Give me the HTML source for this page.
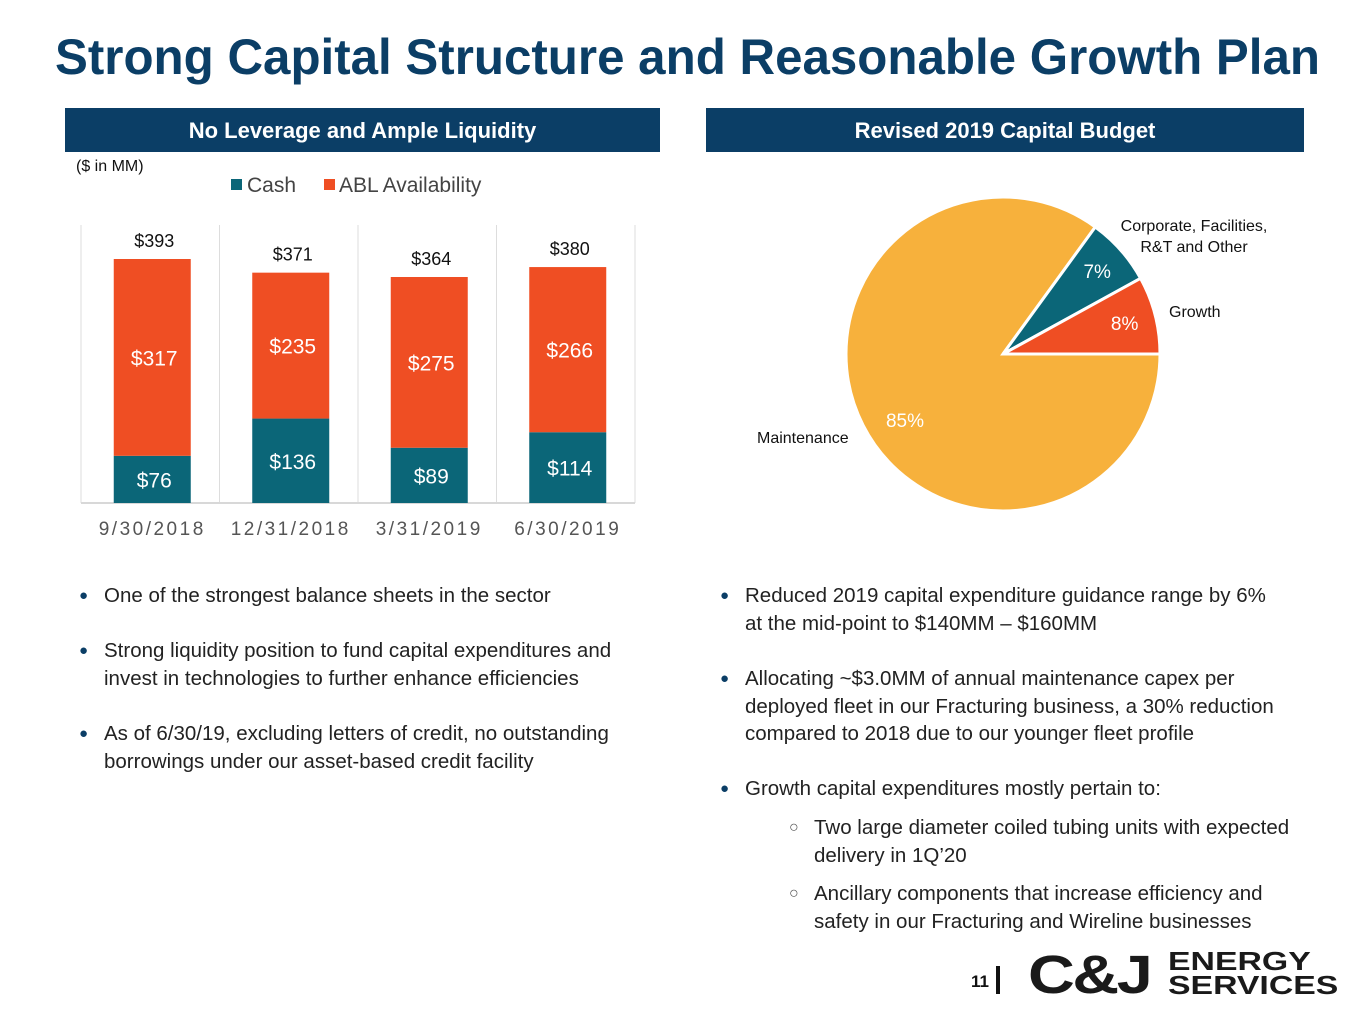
<!DOCTYPE html>
<html><head><meta charset="utf-8"><style>
body{margin:0;width:1365px;height:1024px;background:#fff;position:relative;overflow:hidden;font-family:"Liberation Sans",sans-serif;}
.hdr{position:absolute;top:108px;height:44px;background:#0b3e66;color:#fff;font-weight:bold;font-size:22px;text-align:center;line-height:46px;}
.bul{position:absolute;font-size:20.5px;color:#222;line-height:27.5px;}
.bul .b{position:absolute;left:-25px;color:#0b3e66;font-size:15px;}
.bul .o{position:absolute;left:-25px;color:#555;font-size:16px;}
</style></head><body>
<svg style="position:absolute;left:0;top:0" width="1365" height="100">
<text x="55" y="74" font-family="Liberation Sans, sans-serif" font-weight="bold" font-size="50" fill="#0b3e66" textLength="1265" lengthAdjust="spacingAndGlyphs">Strong Capital Structure and Reasonable Growth Plan</text></svg>
<div class="hdr" style="left:65px;width:595px">No Leverage and Ample Liquidity</div>
<div class="hdr" style="left:706px;width:598px">Revised 2019 Capital Budget</div>
<svg id="bar" style="position:absolute;left:0;top:0" width="700" height="560"></svg>
<svg id="pie" style="position:absolute;left:700px;top:150px" width="665" height="400"></svg>

<div class="bul" style="left:104px;top:582px"><span class="b">●</span>One of the strongest balance sheets in the sector</div>
<div class="bul" style="left:104px;top:637px;width:535px"><span class="b">●</span>Strong liquidity position to fund capital expenditures and invest in technologies to further enhance efficiencies</div>
<div class="bul" style="left:104px;top:720px;width:535px"><span class="b">●</span>As of 6/30/19, excluding letters of credit, no outstanding borrowings under our asset-based credit facility</div>
<div class="bul" style="left:745px;top:582px;width:535px"><span class="b">●</span>Reduced 2019 capital expenditure guidance range by 6% at the mid-point to $140MM – $160MM</div>
<div class="bul" style="left:745px;top:665px;width:535px"><span class="b">●</span>Allocating ~$3.0MM of annual maintenance capex per deployed fleet in our Fracturing business, a 30% reduction compared to 2018 due to our younger fleet profile</div>
<div class="bul" style="left:745px;top:775px;width:535px"><span class="b">●</span>Growth capital expenditures mostly pertain to:</div>
<div class="bul" style="left:814px;top:814px;width:490px"><span class="o">○</span>Two large diameter coiled tubing units with expected delivery in 1Q’20</div>
<div class="bul" style="left:814px;top:880px;width:470px"><span class="o">○</span>Ancillary components that increase efficiency and safety in our Fracturing and Wireline businesses</div>

<div style="position:absolute;left:971px;top:972px;font-size:17px;font-weight:bold;color:#111">11</div>
<div style="position:absolute;left:996px;top:966px;width:4px;height:28px;background:#111"></div>
<div style="position:absolute;left:1028px;top:950px;width:320px;height:50px;">
<span style="position:absolute;left:0;top:-6px;font-size:54px;font-weight:bold;color:#1a1a1a;letter-spacing:-2px;transform:scaleX(1.2);transform-origin:left;display:inline-block">C&amp;J</span>
<span style="position:absolute;left:140px;top:-1px;font-size:26px;font-weight:bold;color:#1a1a1a;line-height:24px;transform:scaleX(1.3);transform-origin:left;display:inline-block">ENERGY<br>SERVICES</span></div>

<script>
const categories=["9/30/2018","12/31/2018","3/31/2019","6/30/2019"];
const cashValues=[76,136,89,114];
const ablValues=[317,235,275,266];
const totalLabels=["$393","$371","$364","$380"];
const pieLabels=["Maintenance","Corporate, Facilities, R&T and Other","Growth"];
const piePercents=[85,7,8];

const NS="http://www.w3.org/2000/svg";
function mk(parent,tag,attrs,text){const e=document.createElementNS(NS,tag);for(const k in attrs)e.setAttribute(k,attrs[k]);if(text!==undefined)e.textContent=text;parent.appendChild(e);return e;}

const bar=document.getElementById('bar');
const x0=81,x1=635,yBase=503,scale=244/393;
const yv=v=>yBase-v*scale;
const slot=(x1-x0)/categories.length;
const xc=i=>x0+slot*(i+0.5)+2;
let t=mk(bar,'text',{x:76,y:171,'font-size':16,fill:'#111'},'($ in MM)');

let r=mk(bar,'rect',{x:231,y:179,width:11,height:11,fill:'#0b6678'});

t=mk(bar,'text',{x:247,y:192,'font-size':21,fill:'#444'},'Cash');

r=mk(bar,'rect',{x:324,y:179,width:11,height:11,fill:'#ef4e23'});

t=mk(bar,'text',{x:339,y:192,'font-size':21,fill:'#444'},'ABL Availability');

for(let i=0;i<=categories.length;i++){
  const l=mk(bar,'line',{x1:x0+slot*i,x2:x0+slot*i,y1:225,y2:yBase,stroke:'#ddd','stroke-width':1});
  
}
const bl=mk(bar,'line',{x1:x0,x2:x1,y1:yBase,y2:yBase,stroke:'#d8d8d8','stroke-width':2});

const bw=77;
categories.forEach((c,i)=>{
  const cx=xc(i),c1=cashValues[i],a=ablValues[i];
  const rc=mk(bar,'rect',{x:cx-bw/2,y:yv(c1),width:bw,height:yBase-yv(c1),fill:'#0b6678'});
  
  const ra=mk(bar,'rect',{x:cx-bw/2,y:yv(c1+a),width:bw,height:yv(c1)-yv(c1+a),fill:'#ef4e23'});
  
  const tc=mk(bar,'text',{x:cx+2,y:(yv(c1)+yBase)/2+8,'text-anchor':'middle','font-size':21,fill:'#fff'},'$'+c1);
  
  const ta=mk(bar,'text',{x:cx+2,y:(yv(c1+a)+yv(c1))/2+8,'text-anchor':'middle','font-size':21,fill:'#fff'},'$'+a);
  
  const tt=mk(bar,'text',{x:cx+2,y:yv(c1+a)-12,'text-anchor':'middle','font-size':18,fill:'#111'},totalLabels[i]);
  
  const tl=mk(bar,'text',{x:cx,y:535,'text-anchor':'middle','font-size':19,fill:'#555','letter-spacing':'2.5'},c);
  
});

const pie=document.getElementById('pie');
const pcx=303,pcy=204,pr=157;
const colors=['#f7b13c','#0b6678','#ef4e23'];
const total=piePercents.reduce((a,b)=>a+b,0);
let ang=0;
piePercents.forEach((p,i)=>{
  const sweep=p/total*2*Math.PI;
  const a0=ang,a1=ang+sweep;
  const xA=pcx+pr*Math.cos(a0),yA=pcy+pr*Math.sin(a0),xB=pcx+pr*Math.cos(a1),yB=pcy+pr*Math.sin(a1);
  const path=mk(pie,'path',{d:`M${pcx},${pcy} L${xA},${yA} A${pr},${pr} 0 ${sweep>Math.PI?1:0} 1 ${xB},${yB} Z`,fill:colors[i],stroke:'#fff','stroke-width':3});
  
  
  const mid=(a0+a1)/2;
  const lr=i===0?pr*0.74:pr*0.8;
  let lx=pcx+lr*Math.cos(mid),ly=pcy+lr*Math.sin(mid)+7;
  if(i===0){lx=pcx-98;ly=pcy+73;}
  const pt=mk(pie,'text',{x:lx,y:ly,'text-anchor':'middle','font-size':19,fill:'#fff'},p+'%');
  
  
  ang=a1;
});
let pl=mk(pie,'text',{x:57,y:293,'font-size':16,fill:'#111'},pieLabels[0]);

pl=mk(pie,'text',{x:469,y:167,'font-size':16,fill:'#111'},pieLabels[2]);

pl=mk(pie,'text',{x:494,y:81,'text-anchor':'middle','font-size':16,fill:'#111'},'Corporate, Facilities,');

pl=mk(pie,'text',{x:494,y:102,'text-anchor':'middle','font-size':16,fill:'#111'},'R&T and Other');

</script>
</body></html>
